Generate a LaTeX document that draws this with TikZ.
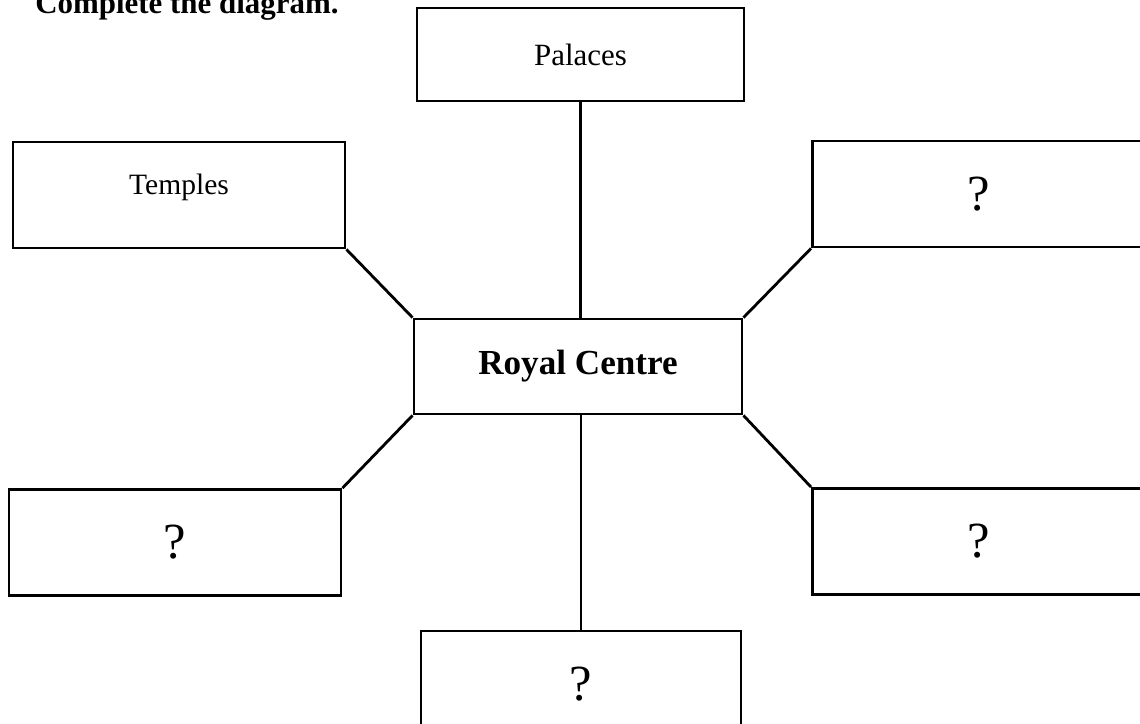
\documentclass[tikz,border=0pt]{standalone}
\usepackage{fontspec}
\setmainfont{Liberation Serif}
\usepackage{tikz}
\usetikzlibrary{positioning}

\begin{document}
\begin{tikzpicture}[
  x=0.025cm, y=-0.025cm,
  box/.style={draw, line width=2pt, rectangle, minimum width=8.3cm,
    minimum height=2.65cm, inner sep=0pt, font=\fontsize{22}{24}\selectfont},
  qbox/.style={box, font=\fontsize{36}{38}\selectfont},
  link/.style={line width=2pt},
  ]
  \clip (0,0) rectangle (1140,724);

  % Titre
  \node[anchor=base west, inner sep=0pt, font=\fontsize{22}{24}\selectfont\bfseries]
    (titre) at (35,13) {Complete the diagram.};

  % Centre
  \node[box, minimum width=8.2cm, minimum height=2.375cm,
        font=\fontsize{25}{27}\selectfont\bfseries] (royal) at (578,366.5) {Royal Centre};

  % Cases autour
  \node[box, minimum width=8.175cm, minimum height=2.325cm] (palaces) at (580.5,54.5) {Palaces};
  \node[box, text depth=0.55cm, font=\fontsize{21}{23}\selectfont] (temples) at (179,195) {Temples};
  \node[qbox] (qhd) at (978.5,194) {?};
  \node[qbox] (qbg) at (175,542.5) {?};
  \node[qbox] (qbd) at (978.5,541.5) {?};
  \node[qbox, minimum width=8cm] (qbas) at (581,684) {?};

  % Liens
  \draw[link] (palaces.south) -- (palaces.south |- royal.north);
  \draw[link] (temples.south east) -- (royal.north west);
  \draw[link] (qhd.south west) -- (royal.north east);
  \draw[link] (royal.south west) -- (qbg.north east);
  \draw[link] (royal.south east) -- (qbd.north west);
  \draw[link] (qbas.north |- royal.south) -- (qbas.north);
\end{tikzpicture}
\end{document}
